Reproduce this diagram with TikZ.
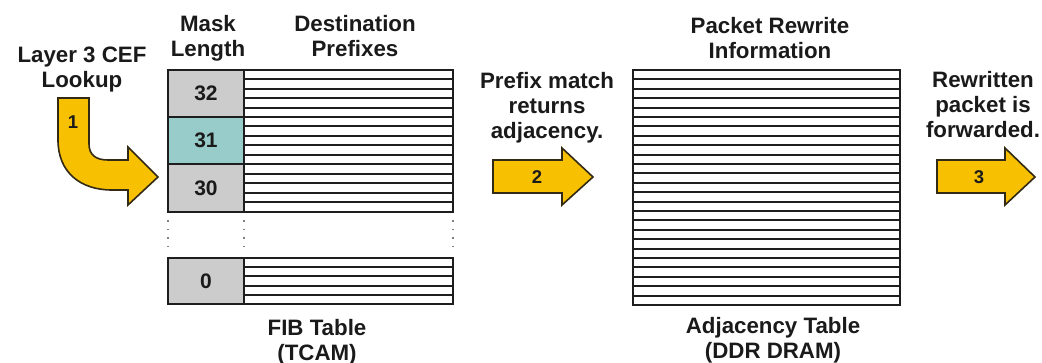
\documentclass[tikz,border=0pt]{standalone}
\usepackage{fontspec}
\setmainfont{Liberation Sans}
\definecolor{txt}{RGB}{26,26,26}
\definecolor{edge}{RGB}{30,30,30}
\definecolor{cgray}{RGB}{204,204,204}
\definecolor{cteal}{RGB}{152,204,202}
\definecolor{ayel}{RGB}{247,192,0}
\definecolor{aedge}{RGB}{50,42,20}
\begin{document}
\begin{tikzpicture}[x=1pt,y=-1pt,
  lbl/.style={font=\fontsize{22.3}{25}\selectfont\bfseries, text=txt, align=center, inner sep=0pt, anchor=north},
  cell/.style={draw=edge, line width=2pt, minimum width=76pt, minimum height=47pt, inner sep=0pt,
    font=\fontsize{21}{24}\selectfont\bfseries, text=txt},
  anum/.style={font=\fontsize{18.5}{20}\selectfont\bfseries, text=txt, inner sep=0pt},
  frame/.style={draw=edge, line width=2pt},
  stripe/.style={draw=edge, line width=2pt},
  dots/.style={draw=gray, line width=1.6pt, dash pattern=on 1.6pt off 7pt},
  bigarrow/.style={fill=ayel, draw=aedge, line width=1.6pt, line join=miter}]
\useasboundingbox (0,0) rectangle (1042,363);

% ---------- headers ----------
\node[lbl] (maskhdr) at (208,15) {Mask\\Length};
\node[lbl] (desthdr) at (355,15) {Destination\\Prefixes};
\node[lbl] (cef) at (82,46.7) {Layer 3 CEF\\Lookup};
\node[lbl] (rewhdr) at (770,17) {Packet Rewrite\\Information};
\node[lbl] (pmatch) at (547,71.7) {Prefix match\\returns\\adjacency.};
\node[lbl] (fwd) at (983,70.7) {Rewritten\\packet is\\forwarded.};
\node[lbl] (fibttl) at (317,318.7) {FIB Table\\(TCAM)};
\node[lbl] (adjttl) at (773,316.7) {Adjacency Table\\(DDR DRAM)};

% ---------- FIB table ----------
\foreach \t/\b in {70/117,117/164,164/212,258/304}{
  \foreach \k in {1,...,4}{
    \draw[stripe] (244,{\t+(\b-\t)*\k/5}) -- (453,{\t+(\b-\t)*\k/5});
  }
}
\node[cell, fill=cgray] (m32) at (206,93.5) {32};
\node[cell, fill=cteal] (m31) at (206,140.5) {31};
\node[cell, fill=cgray, minimum height=48pt] (m30) at (206,188) {30};
\node[cell, fill=cgray, minimum height=46pt] (m0) at (206,281) {0};
\draw[frame] (168,70) rectangle (453,212);
\draw[frame] (244,70) -- (244,212);
\draw[frame] (244,117) -- (453,117);
\draw[frame] (244,164) -- (453,164);
\draw[frame] (168,258) rectangle (453,304);
\draw[frame] (244,258) -- (244,304);
\foreach \x in {168,244,453}{
  \draw[dots] (\x,220) -- (\x,252);
}

% ---------- adjacency table ----------
\foreach \k in {1,...,24}{
  \draw[stripe] (633,{70+235*\k/25}) -- (900,{70+235*\k/25});
}
\draw[frame] (633,70) rectangle (900,305);

% ---------- arrows ----------
\draw[bigarrow] (58,98) -- (58,140) .. controls (58,172) and (80,190) .. (112,190)
  -- (128,190) -- (128,205) -- (158,177) -- (128,147) -- (128,160) -- (108,160)
  .. controls (96,160) and (89,155) .. (89,144) -- (89,98) -- cycle;
\node[anum] (n1) at (73,122) {1};

\draw[bigarrow] (493,160) -- (562,160) -- (562,148) -- (593,177) -- (562,205) -- (562,193) -- (493,193) -- cycle;
\node[anum] (n2) at (537,177) {2};

\draw[bigarrow] (937,160) -- (1005,160) -- (1005,148) -- (1035,177) -- (1005,205) -- (1005,193) -- (937,193) -- cycle;
\node[anum] (n3) at (979,177) {3};
\end{tikzpicture}
\end{document}
